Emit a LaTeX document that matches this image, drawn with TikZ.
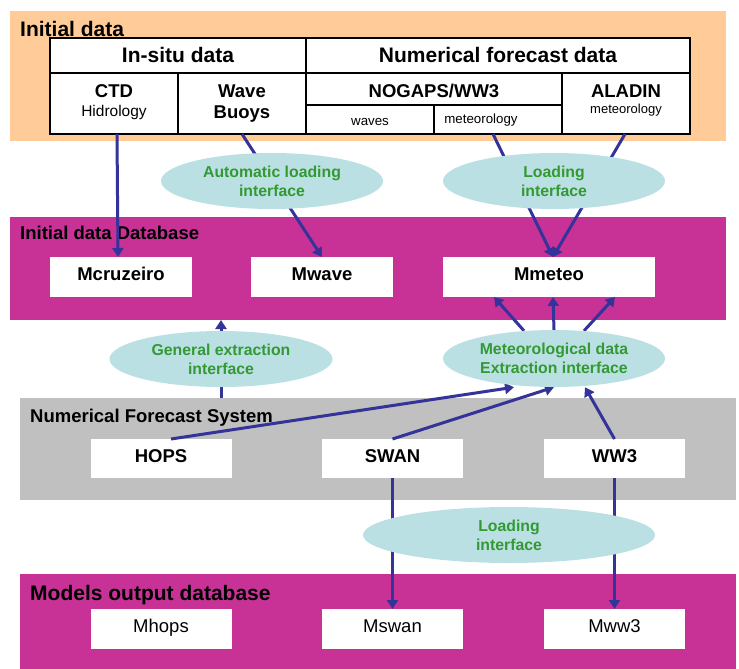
\documentclass[tikz,border=0pt]{standalone}
\usepackage{fontspec}
\setmainfont{Liberation Sans}
\usetikzlibrary{shapes.geometric,arrows.meta,calc}
\pgfdeclarelayer{bg}\pgfdeclarelayer{fg}\pgfsetlayers{bg,main,fg}
\definecolor{peach}{HTML}{FFCC99}
\definecolor{mag}{HTML}{C83296}
\definecolor{grayp}{HTML}{C0C0C0}
\definecolor{arrowc}{HTML}{333399}
\definecolor{ellf}{HTML}{BBE0E3}
\definecolor{grn}{HTML}{339933}
\begin{document}
\begin{tikzpicture}[x=1pt,y=-1pt,
  panel/.style={inner sep=0pt,outer sep=0pt,minimum width=716pt},
  cell/.style={draw=black,line width=1.3pt,fill=white,inner sep=0pt,outer sep=0pt},
  box/.style={fill=white,inner sep=0pt,outer sep=0pt,minimum width=142pt,minimum height=40pt,text height=13pt,text depth=6pt,font=\fontsize{18.5}{22}\selectfont\bfseries},
  rbox/.style={box,font=\fontsize{18.5}{22}\selectfont},
  iface/.style={ellipse,fill=ellf,inner sep=0pt,minimum height=56pt,minimum width=222pt,align=center,text=grn,font=\fontsize{15.8}{19}\selectfont\bfseries},
  lbl/.style={inner sep=0pt,anchor=base west},
  txt/.style={inner sep=0pt,anchor=base},
  bigb/.style={font=\fontsize{21}{25}\selectfont\bfseries},
  midb/.style={font=\fontsize{18.5}{22}\selectfont\bfseries},
  smallr/.style={font=\fontsize{13.3}{16}\selectfont},
  arr/.style={draw=arrowc,line width=3pt,-{Triangle[length=9pt,width=11pt]}}]
\useasboundingbox (0,0) rectangle (739,669);

% panels
\begin{pgfonlayer}{bg}
\node[panel,fill=peach,minimum height=130pt] (init) at (368,76) {};
\node[panel,fill=mag,minimum height=103pt] (db) at (368,268.5) {};
\node[panel,fill=grayp,minimum height=102pt] (nfs) at (378,449) {};
\node[panel,fill=mag,minimum height=95pt] (out) at (378,621.5) {};
\end{pgfonlayer}

% panel titles
\node[lbl,bigb] (tinit) at (20,37) {Initial data};
\node[lbl,midb] (tdb) at (20,239) {Initial data Database};
\node[lbl,midb] (tnfs) at (30,422) {Numerical Forecast System};
\node[lbl,bigb] (tout) at (30,600) {Models output database};

% table
\node[cell,minimum width=256pt,minimum height=35pt] (insitu) at (178,55.5) {};
\node[cell,minimum width=384pt,minimum height=35pt] (numf) at (498,55.5) {};
\node[cell,minimum width=128pt,minimum height=61pt] (ctd) at (114,103.5) {};
\node[cell,minimum width=128pt,minimum height=61pt] (wave) at (242,103.5) {};
\node[cell,minimum width=256pt,minimum height=32pt] (nog) at (434,89) {};
\node[cell,minimum width=128pt,minimum height=29pt] (waves) at (370,119.5) {};
\node[cell,minimum width=128pt,minimum height=29pt] (nmet) at (498,119.5) {};
\node[cell,minimum width=128pt,minimum height=61pt] (aladin) at (626,103.5) {};

\node[txt,bigb] (t1) at (178,63) {In-situ data};
\node[txt,bigb] (t2) at (498,63) {Numerical forecast data};
\node[txt,midb] (t3) at (114,97) {CTD};
\node[txt,font=\fontsize{15.5}{18}\selectfont] (t4) at (114,117) {Hidrology};
\node[txt,midb] (t5) at (242,97) {Wave};
\node[txt,midb] (t6) at (242,118) {Buoys};
\node[txt,midb] (t7) at (434,97) {NOGAPS/WW3};
\node[txt,smallr] (t8) at (370,125) {waves};
\node[txt,smallr] (t9) at (481,123) {meteorology};
\node[txt,midb] (t10) at (626,97) {ALADIN};
\node[txt,font=\fontsize{13}{16}\selectfont] (t11) at (626,113) {meteorology};

% boxes
\node[box] (mcru) at (121,277) {Mcruzeiro};
\node[box] (mwave) at (322,277) {Mwave};
\node[box,minimum width=212pt] (mmeteo) at (549,277) {Mmeteo};
\node[box,minimum height=39pt,minimum width=141pt] (hops) at (161,458.5) {HOPS};
\node[box,minimum height=39pt,minimum width=141pt] (swan) at (392.5,458.5) {SWAN};
\node[box,minimum height=39pt,minimum width=141pt] (ww3) at (614.5,458.5) {WW3};
\node[rbox,minimum width=141pt] (mhops) at (161,629) {Mhops};
\node[rbox,minimum width=141pt] (mswan) at (392.5,629) {Mswan};
\node[rbox,minimum width=141pt] (mww3) at (614.5,629) {Mww3};

% interfaces
\begin{pgfonlayer}{fg}
\node[iface] (auto) at (272,181) {Automatic loading\\interface};
\node[iface] (load1) at (554,181) {Loading\\interface};
\node[iface,minimum width=223pt] (genx) at (221,359) {General extraction\\interface};
\node[iface,minimum height=57pt] (metx) at (554,358.5) {Meteorological data\\Extraction interface};
\node[iface,minimum width=292pt] (load2) at (509,535) {Loading\\interface};
\end{pgfonlayer}

% connectors
\draw[arr] ($(ctd.south)+(3,0)$) -- ($(mcru.north)+(-3,0)$);
\draw[arr] (wave.south) -- (mwave.north);
\draw[arr] ($(nmet.south)+(-5,0)$) -- ($(mmeteo.north)+(4,0)$);
\draw[arr] ($(aladin.south)+(-1,0)$) -- ($(mmeteo.north)+(4,0)$);
\draw[arr] ($(metx.north)+(-30,1)$) -- ($(mmeteo.south)+(-55,0)$);
\draw[arr] (metx.north) -- ($(mmeteo.south)+(4,0)$);
\draw[arr] ($(metx.north)+(30,1)$) -- ($(mmeteo.south)+(66,0)$);
\draw[arr] (genx.center |- nfs.north) -- (genx.center |- db.south);
\draw[arr] ($(hops.north)+(10,0)$) -- ($(metx.south)+(-40,0)$);
\draw[arr] (swan.north) -- (metx.south);
\draw[arr] (ww3.north) -- ($(metx.south)+(31,0)$);
\draw[arr] (swan.south) -- (mswan.north);
\draw[arr] (ww3.south) -- (mww3.north);
\end{tikzpicture}
\end{document}
